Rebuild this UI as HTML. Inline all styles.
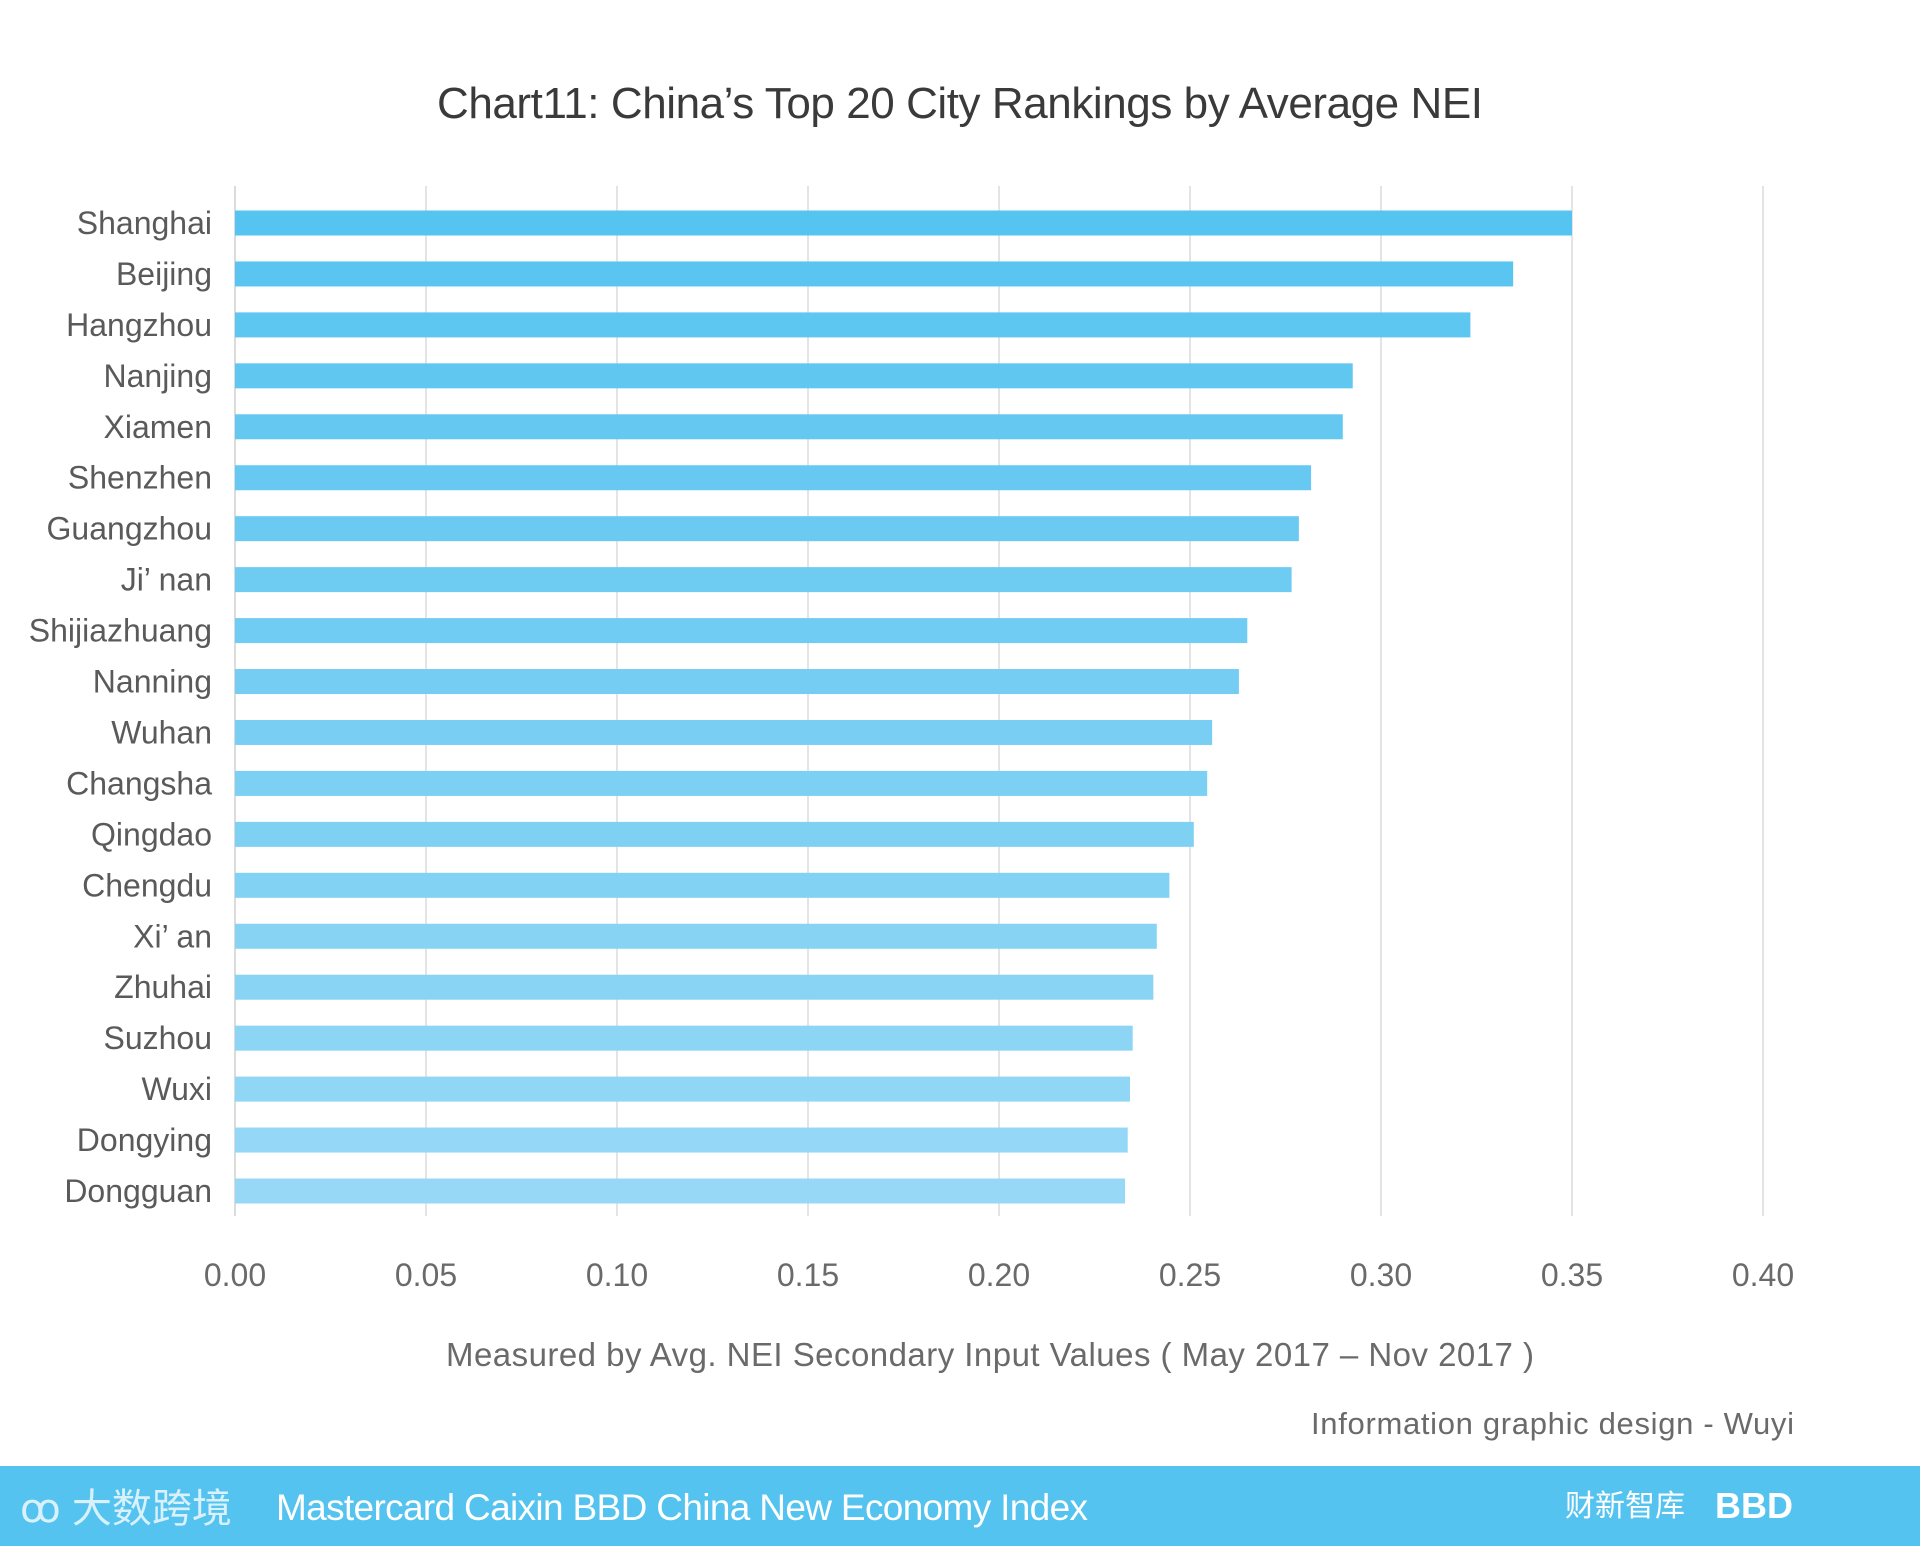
<!DOCTYPE html>
<html><head><meta charset="utf-8"><style>
body{margin:0;width:1920px;height:1546px;background:#fff;overflow:hidden;font-family:"Liberation Sans","Noto Sans CJK SC",sans-serif;}
</style></head><body>
<svg id="chart" width="1920" height="1546" xmlns="http://www.w3.org/2000/svg">
<text x="960" y="118" text-anchor="middle" font-size="44" fill="#3a3a3a" textLength="1046">Chart11: China’s Top 20 City Rankings by Average NEI</text>
<g id="grid"></g><g id="bars"></g><g id="ylabels"></g><g id="xticks"></g>
<text x="990" y="1366" text-anchor="middle" font-size="33" fill="#6a6a6a" textLength="1088">Measured by Avg. NEI Secondary Input Values ( May 2017 – Nov 2017 )</text>
<text x="1794" y="1434" text-anchor="end" font-size="31" fill="#6a6a6a" textLength="483">Information graphic design - Wuyi</text>
<rect x="0" y="1466" width="1920" height="80" fill="#55c3ef"/>
<text x="20" y="1522" font-size="40" fill="#d8f1fc">ꝏ 大数跨境</text>
<text x="276" y="1520" font-size="37" fill="#fff" textLength="812">Mastercard Caixin BBD China New Economy Index</text>
<text x="1565" y="1516" font-size="30" fill="#fff">财新智库</text>
<text x="1715" y="1518" font-size="36" font-weight="bold" fill="#fff">BBD</text>
</svg>
<script>
const cities=["Shanghai","Beijing","Hangzhou","Nanjing","Xiamen","Shenzhen","Guangzhou","Ji’ nan","Shijiazhuang","Nanning","Wuhan","Changsha","Qingdao","Chengdu","Xi’ an","Zhuhai","Suzhou","Wuxi","Dongying","Dongguan"];
const values=[0.350,0.3346,0.3234,0.2926,0.290,0.2817,0.2785,0.2766,0.265,0.2628,0.2558,0.2545,0.251,0.2446,0.2413,0.2404,0.235,0.2343,0.2337,0.233];
const ticks=[0,0.05,0.10,0.15,0.20,0.25,0.30,0.35,0.40];
const NS="http://www.w3.org/2000/svg";
const x=v=>235+v/0.4*(1763-235);
const y=i=>223+i*(1191-223)/19;
function mk(t,a,p){const e=document.createElementNS(NS,t);for(const k in a)e.setAttribute(k,a[k]);p.appendChild(e);return e;}
const grid=document.getElementById('grid'),bars=document.getElementById('bars'),yl=document.getElementById('ylabels'),xt=document.getElementById('xticks');
ticks.forEach((t,i)=>{
 const l=mk('line',{x1:x(t),x2:x(t),y1:186,y2:1216,stroke:i==0?'#cfcfcf':'#dcdcdc','stroke-width':1.5},grid);
 
 
 const tx=mk('text',{x:x(t),y:1286,'text-anchor':'middle','font-size':32,fill:'#6a6a6a'},xt);
 tx.textContent=t.toFixed(2);
 
 
});
function col(i){const f=i/19;const a=[0x56,0xc4,0xf0],b=[0x97,0xd8,0xf6];return 'rgb('+a.map((c,k)=>Math.round(c+(b[k]-c)*f)).join(',')+')';}
cities.forEach((c,i)=>{
 const r=mk('rect',{x:x(0),y:y(i)-12.5,width:x(values[i])-x(0),height:25,fill:col(i)},bars);
 
 
 const t=mk('text',{x:212,y:y(i)+11,'text-anchor':'end','font-size':32,fill:'#5a5a5a'},yl);
 t.textContent=c;
 
 
});
</script>
</body></html>
